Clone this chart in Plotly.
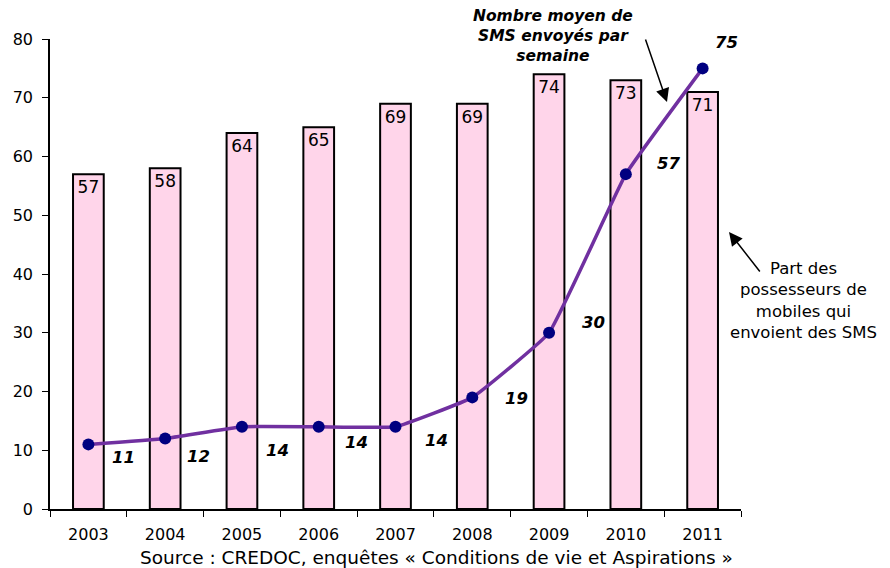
import plotly.graph_objects as go

years = [2003, 2004, 2005, 2006, 2007, 2008, 2009, 2010, 2011]
year_labels = ["2003", "2004", "2005", "2006", "2007", "2008", "2009", "2010", "2011"]
share_sms = [57, 58, 64, 65, 69, 69, 74, 73, 71]
avg_sms_week = [11, 12, 14, 14, 14, 19, 30, 57, 75]

# label offsets in pixels (layout, not data)
label_dx = [35, 33, 36, 38, 41, 44, 44, 43, 24]
label_dy = [-13, -18, -24, -16, -14, -1, 10, 11, 26]

FONT = "DejaVu Sans"

fig = go.Figure()
fig.add_trace(go.Bar(
    x=years, y=share_sms, width=0.4,
    marker=dict(color="#FFD5EA", line=dict(color="black", width=2)),
    text=[str(v) for v in share_sms], textposition="inside",
    insidetextanchor="end", textangle=0, constraintext="none",
    textfont=dict(family=FONT, size=17, color="black"),
    hoverinfo="skip", showlegend=False,
))
fig.add_trace(go.Scatter(
    x=years, y=avg_sms_week, mode="lines+markers",
    line=dict(color="#7030A0", width=3.5, shape="spline", smoothing=0.3),
    marker=dict(color="#000080", size=12),
    hoverinfo="skip", showlegend=False,
))

annotations = []
for yr, v, dx, dy in zip(years, avg_sms_week, label_dx, label_dy):
    annotations.append(dict(
        x=yr, y=v, xref="x", yref="y", text=f"<b><i>{v}</i></b>", showarrow=False,
        xanchor="center", yanchor="middle",
        xshift=dx, yshift=dy, font=dict(family=FONT, size=16.5, color="black"),
    ))

# page offset of the figure (body margin) compensated in the margins
OFF = 8
PX0, PY0, PW, PH = 50, 39, 691, 470   # plot area in page pixels
L, T = PX0 - OFF, PY0 - OFF
R, B = 890 - L - PW, 568 - T - PH

def to_px(x):
    return (x - PX0) / PW

def to_py(y):
    return (PY0 + PH - y) / PH

annotations += [
    dict(x=to_px(553), y=to_py(36), xref="paper", yref="paper", showarrow=False,
         xanchor="center", yanchor="middle",
         text="<b><i>Nombre moyen de<br>SMS envoyés par<br>semaine</i></b>",
         align="center", font=dict(family=FONT, size=15.5, color="black")),
    dict(x=to_px(804), y=to_py(300), xref="paper", yref="paper", showarrow=False,
         xanchor="center", yanchor="middle",
         text="Part des<br>possesseurs de<br>mobiles qui<br>envoient des SMS",
         align="center", font=dict(family=FONT, size=16.5, color="black")),
    dict(x=to_px(436), y=to_py(557), xref="paper", yref="paper", showarrow=False,
         xanchor="center", yanchor="middle",
         text="Source : CREDOC, enquêtes « Conditions de vie et Aspirations »",
         font=dict(family=FONT, size=18.5, color="black")),
    dict(x=to_px(667), y=to_py(102), xref="paper", yref="paper", text="",
         showarrow=True, arrowhead=2, arrowsize=1.8, arrowwidth=1.5,
         arrowcolor="black", ax=-22, ay=-64),
    dict(x=to_px(729), y=to_py(232), xref="paper", yref="paper", text="",
         showarrow=True, arrowhead=2, arrowsize=1.8, arrowwidth=1.5,
         arrowcolor="black", ax=32, ay=41),
]

boundaries = [y - 0.5 for y in years] + [years[-1] + 0.5]

fig.update_layout(
    width=890, height=568,
    margin=dict(l=L, r=R, t=T, b=B, autoexpand=False),
    paper_bgcolor="white", plot_bgcolor="white",
    font=dict(family=FONT, size=16, color="black"),
    annotations=annotations,
    xaxis=dict(type="linear", range=[years[0] - 0.5, years[-1] + 0.5],
               tickmode="array", tickvals=years, ticktext=year_labels, ticks="",
               ticklabelstandoff=10,
               minor=dict(tickmode="array", tickvals=boundaries, ticks="outside",
                          ticklen=6, tickcolor="black", showgrid=False),
               showline=True, linecolor="black", linewidth=1.5,
               showgrid=False, zeroline=False,
               tickfont=dict(family=FONT, size=16, color="black")),
    yaxis=dict(range=[0, 80], dtick=10, ticks="outside", ticklen=6, tickcolor="black",
               ticklabelstandoff=6,
               showline=True, linecolor="black", linewidth=1.5, showgrid=False,
               zeroline=False, tickfont=dict(family=FONT, size=16, color="black")),
)

fig.write_html("out.html")
